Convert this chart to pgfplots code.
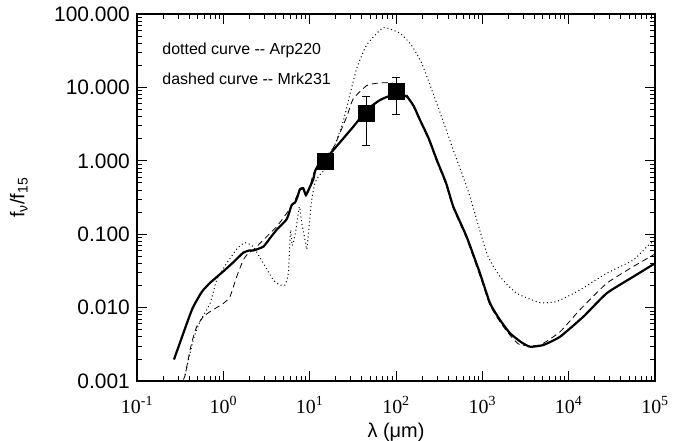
\documentclass[border=0pt]{standalone}
\usepackage{fontspec}
\setmainfont{Liberation Sans}
\newfontfamily\tms{Liberation Serif}
\usepackage{pgfplots}
\pgfplotsset{compat=1.18}
\begin{document}
\begin{tikzpicture}
\useasboundingbox (-137bp,-60bp) rectangle (561bp,381bp);
\begin{axis}[
  at={(0,0)}, anchor=south west,
  scale only axis, width=518bp, height=367bp,
  xmode=log, ymode=log,
  xmin=0.1, xmax=1e5, ymin=0.001, ymax=100,
  axis line style={line width=1.1bp},
  tick style={line width=0.8bp, black},
  tick align=inside,
  major tick length=10bp, minor tick length=5bp,
  xtick={0.1,1,10,100,1000,10000,100000},
  xticklabels={{10\textsuperscript{-1}},{10\textsuperscript{0}},{10\textsuperscript{1}},{10\textsuperscript{2}},{10\textsuperscript{3}},{10\textsuperscript{4}},{10\textsuperscript{5}}},
  xticklabel style={font=\fontsize{20}{24}\selectfont\tms, anchor=base, yshift=-32bp, inner sep=0pt},
  ytick={0.001,0.01,0.1,1,10,100},
  yticklabels={0.001,0.010,0.100,1.000,10.000,100.000},
  yticklabel style={font=\fontsize{21}{25}\selectfont, anchor=east, xshift=-7bp, inner sep=0pt},
  xlabel={λ (μm)},
  xlabel style={font=\fontsize{20}{24}\selectfont, at={(axis description cs:0.5,-0.139)}, anchor=center},
  ylabel={f\textsubscript{ν}/f\textsubscript{15}},
  ylabel style={font=\fontsize{20}{24}\selectfont, at={(axis description cs:-0.228,0.5)}, anchor=center},
]
% dotted: Arp220
\addplot[black, line width=1bp, dash pattern=on 1bp off 2.8bp, smooth, tension=0.3] coordinates {
(0.360,0.00121) (0.449,0.00363) (0.537,0.00646) (0.702,0.0114) (0.838,0.0238)
(1.094,0.0401) (1.45,0.064) (1.782,0.0767) (2.223,0.0676) (2.904,0.0401)
(3.793,0.0238) (4.529,0.0203) (5.176,0.0203) (5.662,0.0293) (6.0,0.114)
(6.3,0.07) (6.9,0.11) (7.6,0.237) (8.1,0.14) (8.6,0.10) (9.25,0.062)
(9.66,0.10) (10.54,0.29) (11.53,0.50) (12.59,0.608) (15.74,0.832)
(20.56,1.92) (24.55,3.5) (29.3,8.0) (35,18) (45.8,38) (71.3,65)
(111.2,54.6) (150,38) (198.6,21.3) (296.5,6.07) (461.3,1.40) (700,0.36)
(1125,0.055) (1603,0.0264) (2500,0.0157) (4656,0.0117) (7261,0.0121)
(13490,0.0174) (27540,0.0293) (56100,0.0446) (83180,0.0700) (100000,0.083)
};
% dashed: Mrk231
\addplot[black, line width=0.8bp, dash pattern=on 6bp off 4bp, smooth, tension=0.3] coordinates {
(0.344,0.00105) (0.360,0.00118) (0.411,0.00264) (0.449,0.0040) (0.491,0.0055)
(0.586,0.0075) (0.702,0.0088) (1.0,0.0114) (1.194,0.0141) (1.429,0.0264)
(1.702,0.0446) (1.945,0.0550) (2.223,0.0610) (2.904,0.0834) (4.15,0.127)
(5.42,0.193) (6.471,0.264) (7.727,0.40) (8.433,0.41) (9.057,0.36)
(10.09,0.45) (11.02,0.661) (14,1.05) (18.8,1.5) (26.9,4.0) (32.0,7.0)
(45.8,10.6) (60,11.4) (85,11.6) (110,10.5) (137,7.6) (160,5.4) (189.7,3.5)
(240,1.9) (296.5,0.98) (380,0.47) (461.3,0.225) (657.7,0.087) (939.7,0.027)
(1227,0.0108) (1600,0.0064) (2094,0.0042) (2735,0.0031) (4656,0.0031)
(7943,0.00468) (13490,0.00933) (27540,0.0214) (56100,0.0363) (100000,0.0537)
};
% solid: model
\addplot[black, line width=2.2bp, smooth, tension=0.3] coordinates {
(0.268,0.00196) (0.344,0.00447) (0.411,0.0080) (0.449,0.0103) (0.537,0.0150)
(0.586,0.0174) (0.702,0.0218) (0.766,0.0238) (1.0,0.0312) (1.306,0.0415)
(1.702,0.0560) (2.0,0.0600) (2.223,0.0600) (2.904,0.0676) (3.467,0.0879)
(4.15,0.115) (5.42,0.16) (6.194,0.25) (6.761,0.27) (7.2,0.32) (7.727,0.41)
(8.433,0.422) (9.057,0.34) (10.09,0.444) (11.02,0.56) (11.53,0.72)
(12.59,0.87) (15.0,1.04) (18.79,1.40) (32.06,2.92) (45.8,4.92) (65.3,6.73)
(93.1,8.0) (110,8.0) (133.7,7.5) (160,5.6) (189.7,3.6) (240,2.0)
(296.5,1.03) (380,0.50) (461.3,0.237) (657.7,0.0925) (939.7,0.0293)
(1227,0.0115) (1600,0.0068) (2094,0.00447) (2800,0.0034) (3565,0.00293)
(5082,0.00309) (7943,0.00401) (14791,0.00752) (27610,0.0157) (56100,0.0264)
(100000,0.0401)
};
% data points
\addplot[black, only marks, mark=square*, mark size=8bp,
  error bars/.cd, y dir=both, y explicit,
  error bar style={line width=1bp, black},
  error mark options={rotate=90, mark size=4bp, line width=1bp, black}]
  coordinates {
  (45,4.48) += (0,3.0) -= (0,2.84)
  (100,8.9) += (0,4.6) -= (0,4.6)
};
\addplot[black, only marks, mark=square*, mark size=8bp] coordinates {(15,1.0)};
\node[anchor=base west, font=\fontsize{16}{19}\selectfont, inner sep=0pt] at (axis description cs:0.0488,0.891) {dotted curve -{}- Arp220};
\node[anchor=base west, font=\fontsize{16}{19}\selectfont, inner sep=0pt] at (axis description cs:0.0488,0.809) {dashed curve -{}- Mrk231};
\end{axis}
\end{tikzpicture}
\end{document}
